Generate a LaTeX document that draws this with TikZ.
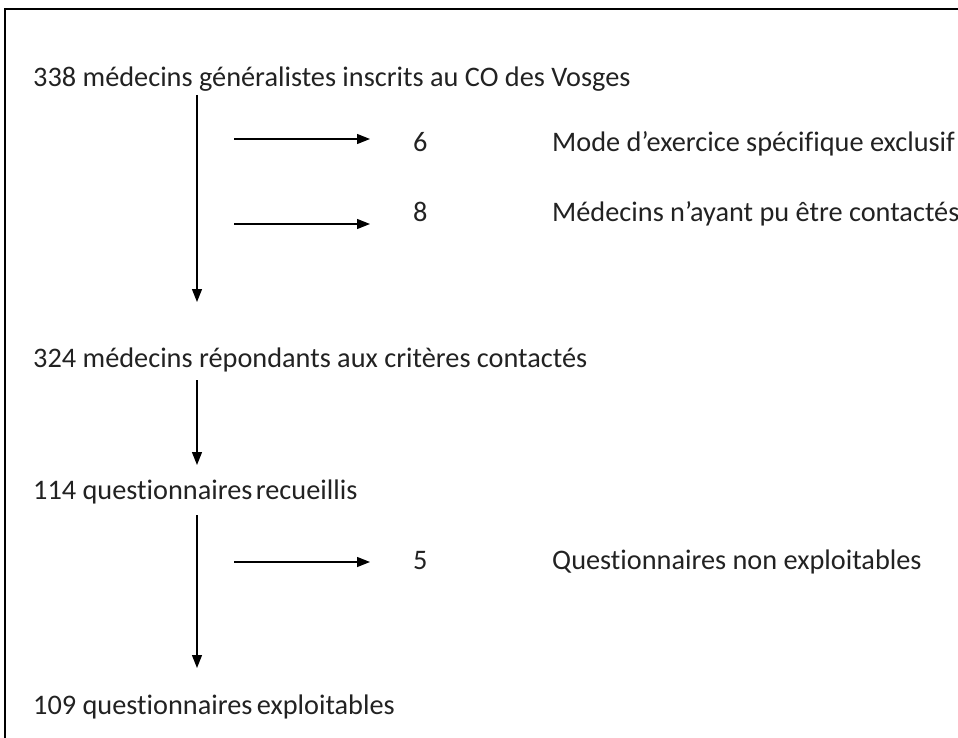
\documentclass[tikz,border=0pt]{standalone}
\usepackage{fontspec}
\setmainfont[Ligatures={NoCommon}]{Carlito}
\usetikzlibrary{arrows.meta}
\definecolor{txt}{HTML}{222222}
\begin{document}
\begin{tikzpicture}[x=1pt,y=-1pt,
  lbl/.style={anchor=base west,inner sep=0pt,text=txt,font=\fontsize{28.3}{34}\selectfont},
  arr/.style={line width=1.4pt,-{Triangle[length=13pt,width=10pt]}},
  frame/.style={line width=2.8pt,draw=black}]
\useasboundingbox (0,0) rectangle (958,738);
\begin{scope}
\clip (0,0) rectangle (958,738);
\draw[frame] (5,9) rectangle (1000,800);
\end{scope}
% main column
\node[lbl] (t1) at (33,87) {338 médecins généralistes inscrits au CO des Vosges};
\node[lbl] (t2) at (33,367) {324 médecins répondants aux critères contactés};
\node[lbl] (t3) at (33,499) {114 questionnaires\hspace{-3pt} recueillis};
\node[lbl] (t4) at (33,714) {109 questionnaires\hspace{-2pt} exploitables};
% side counts
\node[lbl] (n6) at (413,152) {6};
\node[lbl] (n8) at (413,222) {8};
\node[lbl] (n5) at (413,569) {5};
\node[lbl] (l6) at (552,152) {Mode d’exercice spécifique exclusif};
\node[lbl] (l8) at (552,222) {Médecins n’ayant pu être contactés};
\node[lbl] (l5) at (552,569) {Questionnaires non exploitables};
% vertical arrows
\coordinate (v1s) at (197,95);  \coordinate (v1e) at (197,302);
\coordinate (v2s) at (197,380); \coordinate (v2e) at (197,465);
\coordinate (v3s) at (197,515); \coordinate (v3e) at (197,668);
\draw[arr] (v1s) -- (v1e);
\draw[arr] (v2s) -- (v2e);
\draw[arr] (v3s) -- (v3e);
% horizontal arrows
\coordinate (h1s) at (234,139); \coordinate (h1e) at (370,139);
\coordinate (h2s) at (234,224); \coordinate (h2e) at (370,224);
\coordinate (h3s) at (234,562); \coordinate (h3e) at (370,562);
\draw[arr] (h1s) -- (h1e);
\draw[arr] (h2s) -- (h2e);
\draw[arr] (h3s) -- (h3e);
\end{tikzpicture}
\end{document}
